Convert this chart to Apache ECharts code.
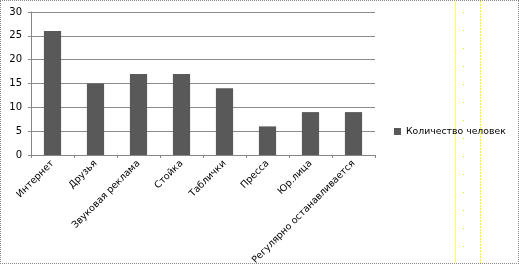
<!DOCTYPE html>
<html><head><meta charset="utf-8">
<script src="https://cdn.jsdelivr.net/npm/echarts@6/dist/echarts.min.js"></script>
<style>
html,body{margin:0;padding:0;background:#fff;}
#c{position:absolute;left:0;top:0;width:519px;height:264px;}
#frame{position:absolute;left:0;top:0;width:517px;height:262px;border:1px dotted #8a8a8a;pointer-events:none;}
</style></head>
<body>
<div id="c"></div>
<div id="frame"></div>
<script>
var categories = ['Интернет','Друзья','Звуковая реклама','Стойка','Таблички','Пресса','Юр.лица','Регулярно останавливается'];
var values = [26, 15, 17, 17, 14, 6, 9, 9];
var seriesName = 'Количество человек';
var yTicks = [0, 5, 10, 15, 20, 25, 30];

var chart = echarts.init(document.getElementById('c'), null, {renderer:'canvas'});
var font = 'DejaVu Sans';
var deco = [
  {type:'rect', shape:{x:455, y:1, width:1, height:262}, style:{fill:'#ffff55'}, silent:true}
];
for (var y = 12; y < 262; y += 18) {
  deco.push({type:'rect', shape:{x:463, y:y, width:1, height:1}, style:{fill:'#e6e600'}, silent:true});
}
for (var y2 = 1; y2 < 263; y2 += 3) {
  deco.push({type:'rect', shape:{x:480, y:y2, width:1, height:2}, style:{fill:'#ffff00'}, silent:true});
}
chart.setOption({
  animation:false,
  backgroundColor:'#fff',
  textStyle:{fontFamily:font},
  grid:{left:31, top:12, right:144, bottom:109, containLabel:false, outerBoundsMode:'none'},
  legend:{
    data:[seriesName], left:394, top:127, orient:'vertical', padding:0,
    icon:'rect', itemWidth:7, itemHeight:7, itemGap:4,
    textStyle:{fontFamily:font, fontSize:9.3, color:'#000'}
  },
  xAxis:{
    type:'category', data:categories,
    axisLine:{lineStyle:{color:'#868686', width:1}},
    axisTick:{show:true, length:3, lineStyle:{color:'#868686'}},
    axisLabel:{rotate:45, interval:0, margin:7, fontFamily:font, fontSize:9.5, color:'#000'}
  },
  yAxis:{
    type:'value', min:yTicks[0], max:yTicks[yTicks.length-1], interval:5,
    axisLine:{show:true, lineStyle:{color:'#868686'}},
    axisTick:{show:true, length:3, lineStyle:{color:'#868686'}},
    splitLine:{lineStyle:{color:'#8c8c8c', width:1}},
    axisLabel:{margin:9, fontFamily:font, fontSize:10, color:'#000'}
  },
  series:[{
    name:seriesName, type:'bar', data:values, barWidth:'40%',
    itemStyle:{color:'#595959'}
  }],
  graphic:deco
});
</script>
</body></html>
